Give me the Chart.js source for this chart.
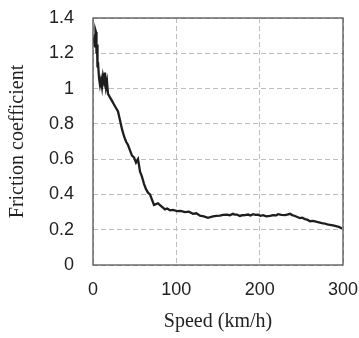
<!DOCTYPE html>
<html>
<head>
<meta charset="utf-8">
<script src="https://cdn.jsdelivr.net/npm/chart.js@4/dist/chart.umd.min.js"></script>
<style>
html,body{margin:0;padding:0;background:#fff;}
#wrap{width:359px;height:338px;position:relative;}
</style>
</head>
<body>
<div id="wrap"><canvas id="c" width="359" height="338"></canvas></div>
<script>
const speeds = [0,1.2,2.4,3,3.6,4.2,4.8,5.4,6,7.2,8.4,9.6,10.8,12,13.2,14.4,15.6,16.8,18,20.4,22.8,25.2,27.6,30,32.4,34.8,37.2,39.6,42,44.4,46.8,49.2,51.6,54,56.4,58.8,61.2,63.6,66,68.4,70.8,73.2,75.6,78,80.4,82.8,86.4,89,92.4,96,100.8,105,110.4,115,120,124,128.4,133,138,141,144,148,152.4,156,160.8,164,168,170,172.8,176.4,179,182.4,186,189,192,195,198,201,204,208,212.4,216,220,222,226,230.4,233,236.4,239,242.4,245,248.4,251,254.4,257,260.4,264,268.8,271,274.8,278,281,284.4,288,291.6,295,298.8];
const friction = [1.26,1.28,1.24,1.33,1.32,1.20,1.25,1.12,1.15,1.06,1.02,1.05,1.01,1.07,1.04,1.09,1.01,1.04,0.97,0.95,0.93,0.91,0.89,0.87,0.82,0.77,0.73,0.70,0.68,0.65,0.62,0.61,0.58,0.60,0.53,0.50,0.46,0.43,0.41,0.40,0.37,0.34,0.345,0.35,0.34,0.33,0.315,0.32,0.31,0.312,0.305,0.307,0.30,0.302,0.29,0.293,0.28,0.276,0.267,0.272,0.275,0.279,0.28,0.284,0.285,0.282,0.29,0.286,0.285,0.278,0.282,0.283,0.286,0.281,0.288,0.284,0.285,0.279,0.282,0.276,0.278,0.283,0.281,0.288,0.284,0.283,0.286,0.29,0.283,0.278,0.272,0.266,0.268,0.26,0.257,0.248,0.25,0.244,0.242,0.237,0.235,0.23,0.227,0.224,0.22,0.216,0.207];
const xTicks = [0,100,200,300];
const yTickLabels = ['0','0.2','0.4','0.6','0.8','1','1.2','1.4'];

const points = speeds.map((s,i)=>({x:s,y:friction[i]}));

const boxPlugin = {
  id:'box',
  afterDraw(chart){
    const {ctx, chartArea:a} = chart;
    ctx.save();
    ctx.strokeStyle = '#555';
    ctx.lineWidth = 1.3;
    ctx.strokeRect(a.left, a.top, a.right-a.left, a.bottom-a.top);
    ctx.restore();
  }
};
function zeroPad(s){ s.paddingTop=0; s.paddingBottom=0; s.paddingLeft=0; s.paddingRight=0; }

new Chart(document.getElementById('c'), {
  type:'line',
  data:{datasets:[{data:points,borderColor:'#1e1e1e',borderWidth:2.3,pointRadius:0,tension:0,fill:false}]},
  options:{
    responsive:false,
    animation:false,
    layout:{padding:{left:0,top:18,right:16,bottom:0}},
    plugins:{legend:{display:false},tooltip:{enabled:false}},
    scales:{
      x:{
        type:'linear',min:0,max:300,
        afterBuildTicks(s){ s.ticks = xTicks.map(v=>({value:v})); },
        afterFit(s){ s.height = 73; zeroPad(s); },
        grid:{color:'#bdbdbd',lineWidth:1,drawTicks:false},
        border:{display:false,dash:[5,3]},
        ticks:{padding:14,color:'#222',font:{family:'"Liberation Sans", Arial, sans-serif',size:18},maxRotation:0,callback:(v)=>String(v)},
        title:{display:true,text:'Speed (km/h)',color:'#222',font:{family:'"Liberation Serif", "Times New Roman", serif',size:20},padding:{top:0,bottom:4}}
      },
      y:{
        type:'linear',min:0,max:1.4,
        afterBuildTicks(s){ s.ticks = yTickLabels.map(t=>({value:parseFloat(t)})); },
        afterFit(s){ s.width = 93; zeroPad(s); },
        grid:{color:'#bdbdbd',lineWidth:1,drawTicks:false},
        border:{display:false,dash:[5,3]},
        ticks:{padding:19,color:'#222',font:{family:'"Liberation Sans", Arial, sans-serif',size:18},callback:(v,i)=>yTickLabels[i]},
        title:{display:true,text:'Friction coefficient',color:'#222',font:{family:'"Liberation Serif", "Times New Roman", serif',size:20},padding:{top:6,bottom:0}}
      }
    }
  },
  plugins:[boxPlugin]
});
</script>
</body>
</html>
